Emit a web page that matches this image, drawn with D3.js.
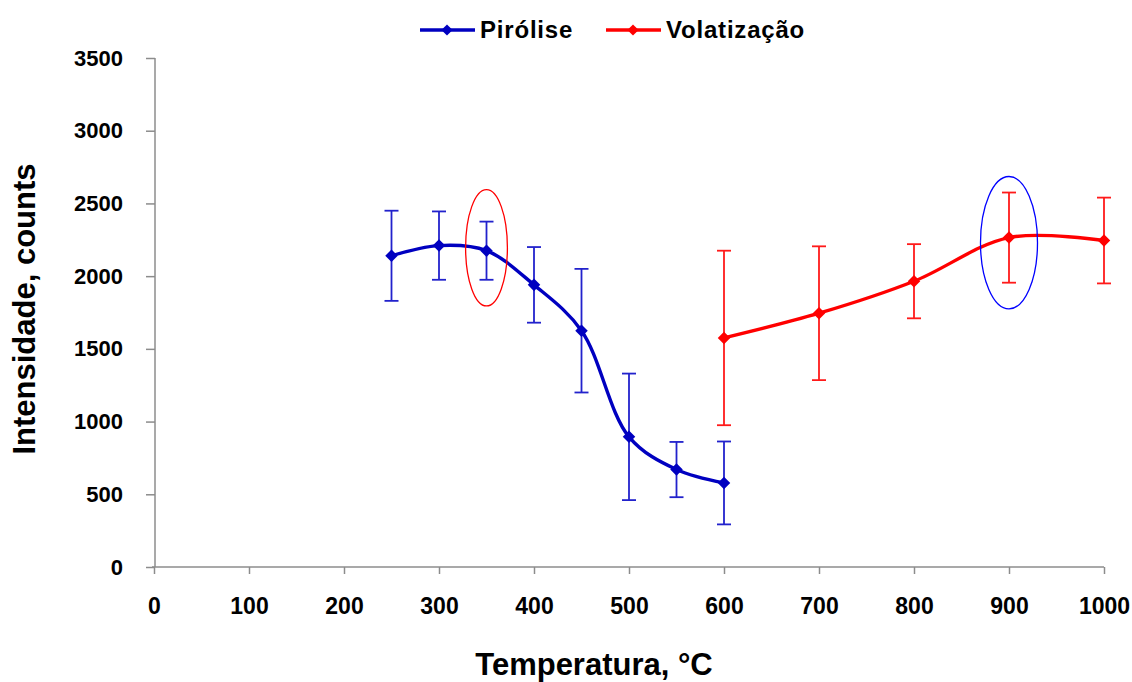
<!DOCTYPE html>
<html>
<head>
<meta charset="utf-8">
<script src="https://cdn.jsdelivr.net/npm/d3@7"></script>
<style>
  body { margin: 0; background: #fff; }
  text { font-family: "Liberation Sans", Arial, sans-serif; font-weight: bold; }
</style>
</head>
<body>
<svg width="1132" height="682"></svg>
<script>
// data
var temps1 = [250, 300, 350, 400, 450, 500, 550, 600];
var pirolise = [2140, 2210, 2175, 1940, 1625, 895, 670, 578];
var pirErr = [310, 235, 200, 260, 425, 435, 190, 285];

var temps2 = [600, 700, 800, 900, 1000];
var volat = [1575, 1745, 1965, 2265, 2245];
var volErr = [600, 460, 255, 310, 295];

var xTicks = [0, 100, 200, 300, 400, 500, 600, 700, 800, 900, 1000];
var yTicks = [0, 500, 1000, 1500, 2000, 2500, 3000, 3500];

// highlighted points (ellipses)
var marks = [{x: 350, y: 2195, rx: 22, ry: 400, color: "#ff0000"},
             {x: 900, y: 2230, rx: 30, ry: 455, color: "#0000ff"}];

var svg = d3.select("svg");
var x = d3.scaleLinear().domain([0, 1000]).range([154, 1104]);
var y = d3.scaleLinear().domain([0, 3500]).range([567, 58]);

// axes
var gx = svg.append("g").attr("transform", "translate(0,567)")
  .call(d3.axisBottom(x).tickValues(xTicks).tickFormat(d3.format("d")).tickSize(7).tickPadding(24).tickSizeOuter(0));
var gy = svg.append("g").attr("transform", "translate(155,0)")
  .call(d3.axisLeft(y).tickValues(yTicks).tickFormat(d3.format("d")).tickSize(9).tickPadding(23).tickSizeOuter(0));
[gx, gy].forEach(function(g) {
  g.select(".domain").attr("stroke", "#8c8c8c").attr("stroke-width", 1.5);
  g.selectAll(".tick line").attr("stroke", "#8c8c8c").attr("stroke-width", 1.5);
  g.selectAll(".tick text").attr("fill", "#000")
    .style("font-family", "'Liberation Sans', Arial, sans-serif").style("font-weight", "bold");
});
gx.selectAll(".tick text").style("font-size", "23px");
gy.selectAll(".tick text").style("font-size", "22px");
gy.select(".domain").attr("d", "M0," + y(3500) + "V" + y(0));
gx.select(".domain").attr("d", "M" + (x(0) - 2) + ",0H" + x(1000));

svg.append("text").attr("x", 594).attr("y", 675).attr("text-anchor", "middle")
  .style("font-size", "31px").text("Temperatura, °C");
svg.append("text").attr("transform", "translate(35,309) rotate(-90)").attr("text-anchor", "middle")
  .style("font-size", "31px").text("Intensidade, counts");

function drawSeries(xs, vals, errs, lineColor, errColor) {
  var pts = xs.map(function(t, i) { return {x: t, y: vals[i], e: errs[i]}; });
  var g = svg.append("g");
  g.selectAll("line.err").data(pts).enter().append("line")
    .attr("x1", function(d) { return x(d.x); }).attr("x2", function(d) { return x(d.x); })
    .attr("y1", function(d) { return y(d.y + d.e); }).attr("y2", function(d) { return y(d.y - d.e); })
    .attr("stroke", errColor).attr("stroke-width", 1.8);
  [1, -1].forEach(function(s) {
    g.selectAll("line.cap" + s).data(pts).enter().append("line")
      .attr("x1", function(d) { return x(d.x) - 7; }).attr("x2", function(d) { return x(d.x) + 7; })
      .attr("y1", function(d) { return y(d.y + s * d.e); }).attr("y2", function(d) { return y(d.y + s * d.e); })
      .attr("stroke", errColor).attr("stroke-width", 1.8);
  });
  var line = d3.line().x(function(d) { return x(d.x); }).y(function(d) { return y(d.y); })
    .curve(d3.curveCatmullRom.alpha(0.5));
  g.append("path").datum(pts).attr("d", line).attr("fill", "none")
    .attr("stroke", lineColor).attr("stroke-width", 3.4);
  g.selectAll("path.pt").data(pts).enter().append("path")
    .attr("d", d3.symbol().type(d3.symbolDiamond2).size(100))
    .attr("transform", function(d) { return "translate(" + x(d.x) + "," + y(d.y) + ")"; })
    .attr("fill", lineColor);
}

drawSeries(temps1, pirolise, pirErr, "#0000c0", "#2222cc");
drawSeries(temps2, volat, volErr, "#ff0000", "#ff1a1a");

svg.selectAll("ellipse").data(marks).enter().append("ellipse")
  .attr("cx", function(d) { return x(d.x); }).attr("cy", function(d) { return y(d.y); })
  .attr("rx", function(d) { return x(d.rx) - x(0); }).attr("ry", function(d) { return y(0) - y(d.ry); })
  .attr("fill", "none").attr("stroke", function(d) { return d.color; }).attr("stroke-width", 1.3);

// legend
var legend = [{name: "Pirólise", color: "#0000c0", x: 420}, {name: "Volatização", color: "#ff0000", x: 606}];
var lg = svg.selectAll("g.leg").data(legend).enter().append("g")
  .attr("transform", function(d) { return "translate(" + d.x + ",30)"; });
lg.append("line").attr("x1", 0).attr("x2", 55).attr("stroke", function(d) { return d.color; }).attr("stroke-width", 3.4);
lg.append("path").attr("d", d3.symbol().type(d3.symbolDiamond2).size(80)).attr("transform", "translate(27,0)")
  .attr("fill", function(d) { return d.color; });
lg.append("text").attr("x", 60).attr("y", 8).style("font-size", "24px").style("letter-spacing", "0.8px")
  .text(function(d) { return d.name; });
</script>
</body>
</html>
